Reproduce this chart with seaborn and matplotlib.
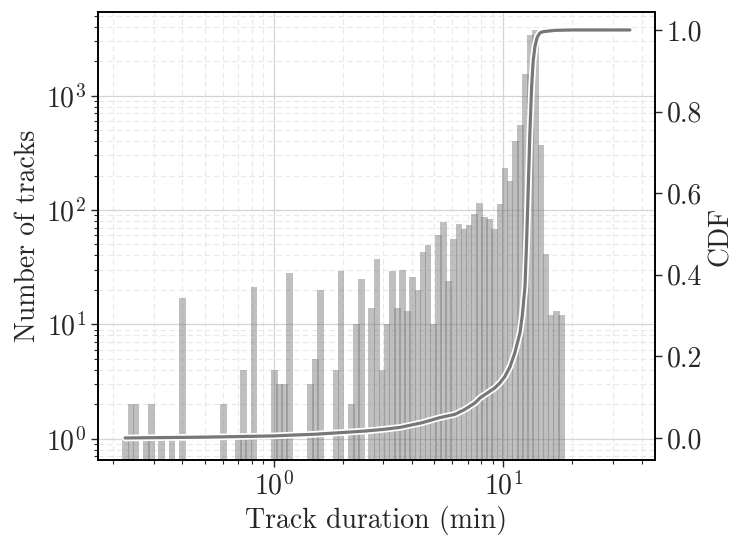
import numpy as np
import pandas as pd
import matplotlib
matplotlib.use("Agg")
import matplotlib.pyplot as plt
import matplotlib.patheffects as pe
from matplotlib.ticker import LogLocator, NullFormatter
import seaborn as sns

# ---- data ----
bin_lo = 0.221          # min of first bin (minutes)
bin_hi = 18.38          # max of last bin (minutes)
n_bins = 86
track_counts = [
    1, 2, 2, 0, 1, 2, 0, 1, 0, 1,        # 0-9
    0, 17, 0, 0, 0, 0, 0, 0, 0, 2,       # 10-19
    0, 0, 1, 4, 1, 21, 0, 0, 0, 4,       # 20-29
    3, 3, 28, 0, 0, 0, 3, 5, 20, 0,      # 30-39
    0, 4, 29, 0, 2, 10, 25, 0, 14, 37,   # 40-49
    4, 10, 29, 14, 30, 13, 26, 20, 43, 49,   # 50-59
    10, 60, 79, 24, 56, 75, 68, 74, 92, 116,  # 60-69
    87, 84, 68, 114, 231, 181, 404, 554, 1557, 3396,  # 70-79
    3753, 370, 41, 12, 13, 12,           # 80-85
]
cdf_minutes = [0.225, 0.5, 0.8, 1.0, 1.2, 1.5, 1.945, 2.5, 3.0, 3.55, 4.4, 5.30, 6.16,
               6.8, 7.53, 7.91, 8.5, 9.20, 9.7, 10.17, 10.7, 11.23, 11.82, 12.1,
               12.43, 12.65, 12.85, 13.05, 13.29, 13.5, 13.74, 14.05, 14.44, 15.0,
               16.8, 20.0, 35.6]
cdf_values = [0.0, 0.002, 0.004, 0.005, 0.007, 0.009, 0.013, 0.017, 0.021, 0.026, 0.037,
              0.050, 0.058, 0.070, 0.086, 0.098, 0.110, 0.123, 0.136, 0.151, 0.175,
              0.209, 0.258, 0.300, 0.372, 0.490, 0.617, 0.745, 0.862, 0.925, 0.960,
              0.982, 0.993, 0.996, 0.999, 1.0, 1.0]

log_edges = np.linspace(np.log10(bin_lo), np.log10(bin_hi), n_bins + 1)
centers = 10 ** ((log_edges[:-1] + log_edges[1:]) / 2)
df = pd.DataFrame({"duration": centers, "count": track_counts})
cdf_df = pd.DataFrame({"duration": cdf_minutes, "cdf": cdf_values})

sns.set_style("white")
plt.rcParams["font.family"] = ["cmr10", "DejaVu Serif"]
plt.rcParams["mathtext.fontset"] = "cm"
plt.rcParams["axes.formatter.use_mathtext"] = True
plt.rcParams["font.size"] = 20

fig = plt.figure(figsize=(7.35, 5.4), dpi=100)
ax = fig.add_axes([98 / 735, 1 - 460 / 540, (655 - 98) / 735, (460 - 12) / 540])

sns.histplot(data=df, x="duration", weights="count", bins=list(log_edges),
             log_scale=True, color="gray", alpha=0.5, linewidth=0,
             shrink=1.3, ax=ax)
ax.set_yscale("log")

ax.set_xlim(0.1715, 45.8)
ax.set_ylim(0.65, 5400)
ax.yaxis.set_major_locator(LogLocator(base=10, numticks=10))
ax.yaxis.set_minor_locator(LogLocator(base=10, subs=np.arange(2, 10), numticks=20))
ax.yaxis.set_minor_formatter(NullFormatter())
ax.xaxis.set_minor_formatter(NullFormatter())
ax.grid(True, which="major", color="#d4d4d4", linewidth=0.9, linestyle="-")
ax.grid(True, which="minor", color="#e9e9e9", linewidth=0.8, linestyle=(0, (5, 3)))
ax.tick_params(which="major", direction="out", length=5, width=1, labelsize=20,
               bottom=True, left=True)
ax.tick_params(which="minor", direction="out", length=3, width=0.8, bottom=True, left=True)
ax.set_xlabel("Track duration (min)", fontsize=20)
ax.set_ylabel("Number of tracks", fontsize=20)
for s in ax.spines.values():
    s.set_color("black")
    s.set_linewidth(1.2)

ax2 = ax.twinx()
sns.lineplot(data=cdf_df, x="duration", y="cdf", ax=ax2, color="#777777", linewidth=2.3)
for ln in ax2.lines:
    ln.set_path_effects([pe.Stroke(linewidth=4.8, foreground="white"), pe.Normal()])
ax2.set_ylim(-0.054, 1.044)
ax2.set_yticks([0.0, 0.2, 0.4, 0.6, 0.8, 1.0])
ax2.set_yticklabels(["0.0", "0.2", "0.4", "0.6", "0.8", "1.0"])
ax2.tick_params(axis="y", direction="out", length=5, width=1, labelsize=20, right=True)
ax2.set_ylabel("CDF", fontsize=20)
ax2.grid(False)
for s in ax2.spines.values():
    s.set_color("black")
    s.set_linewidth(1.2)

fig.savefig("out.png", dpi=100)
